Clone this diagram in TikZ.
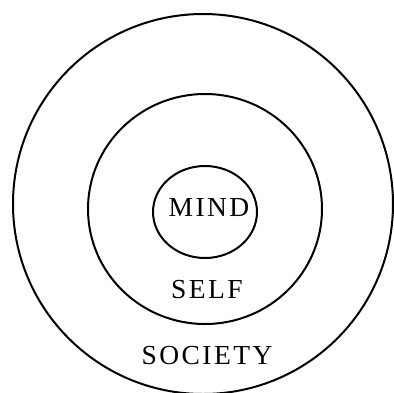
\documentclass[tikz,border=0pt]{standalone}
\usepackage{fontspec}
\setmainfont{Liberation Serif}[LetterSpace=9]
\usetikzlibrary{shapes.geometric}
\begin{document}
\begin{tikzpicture}[x=1pt,y=-1pt,
  ring/.style={draw=black,line width=2pt},
  lbl/.style={font=\fontsize{27.5}{30}\selectfont,inner sep=0pt}]
\useasboundingbox (0,0) rectangle (394,392);
\begin{scope}
\clip (0,0) rectangle (394,392);
\draw[ring] (203,204) ellipse [x radius=190, y radius=190];
\draw[ring] (205,209) ellipse [x radius=117, y radius=115];
\draw[ring] (205,212) ellipse [x radius=52, y radius=46];
\end{scope}
\node[lbl] (mind) at (209,208) {MIND};
\node[lbl] (self) at (207,290) {SELF};
\node[lbl] (society) at (207,356) {SOCIETY};
\end{tikzpicture}
\end{document}
